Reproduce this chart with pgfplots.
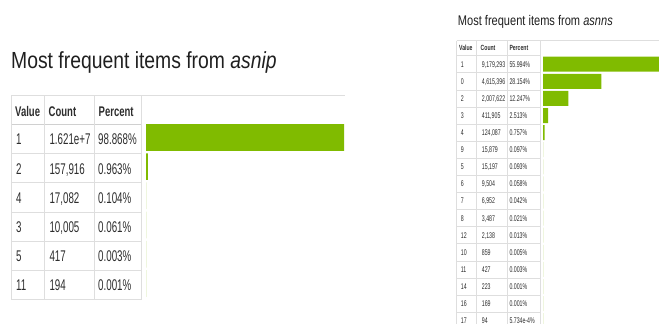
\documentclass[border=0pt]{standalone}
\usepackage{pgfplots}
\pgfplotsset{compat=1.18}
\usepackage{pgfplotstable}
\usepackage{fontspec}
\setmainfont{Liberation Sans}
\newfontfamily\titlefontA{Liberation Sans}[FakeStretch=0.83]
\newfontfamily\titlefontB{Liberation Sans}[FakeStretch=0.79]
\newfontfamily\cellfont{Liberation Sans}[FakeStretch=0.63]
\newfontfamily\headfont{Liberation Sans}[FakeStretch=0.68]
\definecolor{bargreen}{RGB}{128,187,0}
\definecolor{gridc}{RGB}{222,222,222}
\definecolor{txt}{RGB}{45,45,45}

\pgfplotstableread{
row value pct
1 1 98.868
2 2 0.963
3 4 0.104
4 3 0.061
5 5 0.003
6 11 0.001
}\tabA

\pgfplotstableread{
row value pct
1 1 55.994
2 0 28.154
3 2 12.247
4 3 2.513
5 4 0.757
6 9 0.097
7 5 0.093
8 6 0.058
9 7 0.042
10 8 0.021
11 12 0.013
12 10 0.005
13 11 0.003
14 14 0.001
15 16 0.001
16 17 5.734e-4
}\tabB

\begin{document}
\begin{tikzpicture}
\useasboundingbox (0pt,0pt) rectangle (659pt,-324pt);
\begin{scope}[x=1pt,y=-1pt]
% ---------- left table ----------
\node[anchor=base west, inner sep=0, text=black!88] at (11,68)
  {\titlefontA\fontsize{23.3pt}{28pt}\selectfont Most frequent items from \textit{asnip}};
\draw[gridc, line width=0.8pt] (11.7,95) -- (345,95);
\foreach \yy in {153.5,182.7,211.9,241.1,270.3,299.5}
  \draw[gridc, line width=0.8pt] (11.7,\yy) -- (141.7,\yy);
\draw[gridc!85!gray, line width=1.4pt] (11.7,124.3) -- (141.7,124.3);
\foreach \xx in {11.7,44.3,94.3,141.7}
  \draw[gridc, line width=0.8pt] (\xx,95) -- (\xx,299.5);
\node[anchor=base west, inner sep=0, text=txt] at (15,116.7) {\headfont\bfseries\fontsize{14pt}{16pt}\selectfont Value};
\node[anchor=base west, inner sep=0, text=txt] at (48.5,116.7) {\headfont\bfseries\fontsize{14pt}{16pt}\selectfont Count};
\node[anchor=base west, inner sep=0, text=txt] at (98.5,116.7) {\headfont\bfseries\fontsize{14pt}{16pt}\selectfont Percent};
\foreach \v/\c/\p [count=\i] in {1/1.621e+7/98.868, 2/{157,916}/0.963, 4/{17,082}/0.104, 3/{10,005}/0.061, 5/417/0.003, 11/194/0.001} {
  \pgfmathsetmacro\yb{124.3+(\i-0.5)*29.2+6}
  \node[anchor=base west, inner sep=0, text=txt] at (16,\yb) {\cellfont\fontsize{15.5pt}{18pt}\selectfont \v};
  \node[anchor=base west, inner sep=0, text=txt] at (49.3,\yb) {\cellfont\fontsize{15.5pt}{18pt}\selectfont \c};
  \node[anchor=base west, inner sep=0, text=txt] at (98,\yb) {\cellfont\fontsize{15.5pt}{18pt}\selectfont \p\%};
}
% ---------- right table ----------
\node[anchor=base west, inner sep=0, text=black!88] at (457.7,25)
  {\titlefontB\fontsize{14pt}{17pt}\selectfont Most frequent items from \textit{asnns}};
\draw[gridc, line width=0.7pt] (456.7,40.5) -- (659,40.5);
\foreach \k in {0,...,16}
  \draw[gridc, line width=0.7pt] (456.7,55.65+\k*17.1) -- (540.7,55.65+\k*17.1);
\foreach \xx in {456.7,476.7,507.3,540.7}
  \draw[gridc, line width=0.7pt] (\xx,40.5) -- (\xx,330);
\node[anchor=base west, inner sep=0, text=txt] at (459,50.8) {\headfont\bfseries\fontsize{7.5pt}{9pt}\selectfont Value};
\node[anchor=base west, inner sep=0, text=txt] at (480.5,50.8) {\headfont\bfseries\fontsize{7.5pt}{9pt}\selectfont Count};
\node[anchor=base west, inner sep=0, text=txt] at (509.3,50.8) {\headfont\bfseries\fontsize{7.5pt}{9pt}\selectfont Percent};
\foreach \v/\c/\p [count=\i] in {1/{9,179,293}/55.994, 0/{4,615,396}/28.154, 2/{2,007,622}/12.247, 3/{411,905}/2.513, 4/{124,087}/0.757, 9/{15,879}/0.097, 5/{15,197}/0.093, 6/{9,504}/0.058, 7/{6,952}/0.042, 8/{3,487}/0.021, 12/{2,138}/0.013, 10/859/0.005, 11/427/0.003, 14/223/0.001, 16/169/0.001, 17/94/5.734e-4} {
  \pgfmathsetmacro\yb{55.65+(\i-0.5)*17.1+2.9}
  \node[anchor=base west, inner sep=0, text=txt] at (460.7,\yb) {\cellfont\fontsize{8.3pt}{9pt}\selectfont \v};
  \node[anchor=base west, inner sep=0, text=txt] at (481.7,\yb) {\cellfont\fontsize{8.3pt}{9pt}\selectfont \c};
  \node[anchor=base west, inner sep=0, text=txt] at (509.3,\yb) {\cellfont\fontsize{8.3pt}{9pt}\selectfont \p\%};
}
\end{scope}
% ---------- bars ----------
\begin{axis}[at={(146pt,-122.8pt)}, anchor=north west, scale only axis,
  width=198pt, height=175.2pt, xmin=0, xmax=98.868, ymin=0.5, ymax=6.5,
  y dir=reverse, hide axis, xbar, bar width=26.7pt, clip=false, enlargelimits=false]
\addplot[fill=bargreen, draw=none] table[x=pct, y=row] {\tabA};
\end{axis}
\begin{axis}[at={(543pt,-55.65pt)}, anchor=north west, scale only axis,
  width=116pt, height=273.6pt, xmin=0, xmax=55.994, ymin=0.5, ymax=16.5,
  y dir=reverse, hide axis, xbar, bar width=15pt, clip=false, enlargelimits=false]
\addplot[fill=bargreen, draw=none] table[x=pct, y=row] {\tabB};
\end{axis}
\end{tikzpicture}
\end{document}
